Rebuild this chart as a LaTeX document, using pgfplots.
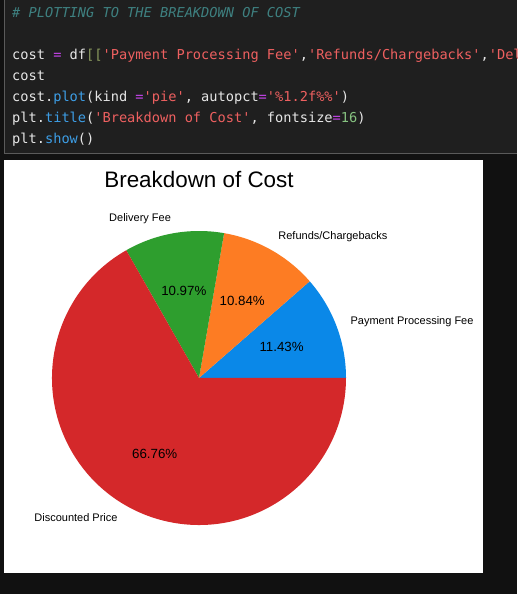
\documentclass[border=0pt]{standalone}
\usepackage{pgfplots}
\pgfplotsset{compat=1.18}
\usepackage{pgfplotstable}
\usepackage{fontspec}
\setmainfont{Liberation Sans}
\newfontfamily\codefont{DejaVu Sans Mono}
\definecolor{pagebg}{HTML}{111111}
\definecolor{cellbg}{HTML}{1F1F1F}
\definecolor{cellborder}{HTML}{5A5A5A}
\definecolor{ccomment}{HTML}{3E8080}
\definecolor{ctext}{HTML}{E6E6E6}
\definecolor{cop}{HTML}{C844EE}
\definecolor{cbrack}{HTML}{8A9A5E}
\definecolor{cstr}{HTML}{EE6060}
\definecolor{cfunc}{HTML}{3D9EE6}
\definecolor{cnum}{HTML}{86C280}
\definecolor{sliceA}{HTML}{0A88E8}
\definecolor{sliceB}{HTML}{FD7C23}
\definecolor{sliceC}{HTML}{2E9E2E}
\definecolor{sliceD}{HTML}{D4282A}

\pgfplotstableread[col sep=comma]{
label,value
Payment Processing Fee,11.43
Refunds/Chargebacks,10.84
Delivery Fee,10.97
Discounted Price,66.76
}\costdata

\newcommand\getrow[3]{%
  \pgfplotstablegetelem{#1}{value}\of\costdata\global\let#2\pgfplotsretval
  \pgfplotstablegetelem{#1}{label}\of\costdata\global\let#3\pgfplotsretval}
\getrow{0}{\vA}{\lA}
\getrow{1}{\vB}{\lB}
\getrow{2}{\vC}{\lC}
\getrow{3}{\vD}{\lD}
\pgfmathsetmacro\aA{0}
\pgfmathsetmacro\aB{\aA+3.6*\vA}
\pgfmathsetmacro\aC{\aB+3.6*\vB}
\pgfmathsetmacro\aD{\aC+3.6*\vC}
\pgfmathsetmacro\aE{\aD+3.6*\vD}

\tikzset{
  lblW/.style={anchor=west, inner sep=0pt, font=\fontsize{11}{12}\selectfont},
  lblE/.style={anchor=east, inner sep=0pt, font=\fontsize{11}{12}\selectfont},
  pct/.style={anchor=center, inner sep=0pt, font=\fontsize{13.3}{15}\selectfont}}

\newcommand\q{\textquotesingle}
\newcommand\slice[3]{% start, end, colour
  \fill[#3] (axis cs:0,0) -- (axis cs:{147*cos(#1)},{147*sin(#1)})
    arc[start angle=#1, end angle=#2, radius=147pt] -- cycle;}
\newcommand\slicelabel[3]{% start, end, text
  \pgfmathsetmacro\mid{(#1+#2)/2}%
  \pgfmathsetmacro\cx{161.7*cos(\mid)}%
  \pgfmathsetmacro\cy{161.7*sin(\mid)}%
  \ifdim\cx pt>0pt \def\lblstyle{lblW}\else\def\lblstyle{lblE}\fi
  \edef\temp{\noexpand\node[\lblstyle] at (axis cs:\cx,\cy) {\noexpand#3};}%
  \temp}
\newcommand\slicepct[3]{% start, end, value
  \pgfmathsetmacro\mid{(#1+#2)/2}%
  \pgfmathsetmacro\cx{88.2*cos(\mid)}%
  \pgfmathsetmacro\cy{88.2*sin(\mid)}%
  \edef\temp{\noexpand\node[pct] at (axis cs:\cx,\cy)
    {\noexpand\pgfmathprintnumber[fixed, fixed zerofill, precision=2, assume math mode=true]{#3}\noexpand\%};}%
  \temp}

\begin{document}
\begin{tikzpicture}[x=1pt,y=1pt]
\useasboundingbox (0,0) rectangle (517,594);
\fill[pagebg] (0,0) rectangle (517,594);
% code cell
\fill[cellbg] (4,440) rectangle (517,594);
\draw[cellborder, line width=1.2pt] (4.6,594) -- (4.6,440.6) -- (517,440.6);
\begin{scope}
\clip (5,441) rectangle (517,594);
\begin{scope}[every node/.style={anchor=base west, inner sep=0pt, font=\codefont\fontsize{13.65}{16}\selectfont}]
\node[text=ccomment, font=\codefont\itshape\fontsize{13.65}{16}\selectfont] at (12,576) {\# PLOTTING TO THE BREAKDOWN OF COST};
\node[text=ctext] at (12,534) {cost \textcolor{cop}{=} df\textcolor{cbrack}{[[}\textcolor{cstr}{\q Payment Processing Fee\q},\textcolor{cstr}{\q Refunds/Chargebacks\q},\textcolor{cstr}{\q Delivery Fee\q},\textcolor{cstr}{\q Discounted Price\q}\textcolor{cbrack}{]]}.sum()};
\node[text=ctext] at (12,513) {cost};
\node[text=ctext] at (12,492) {cost.\textcolor{cfunc}{plot}(kind \textcolor{cop}{=}\textcolor{cstr}{\q pie\q}, autopct\textcolor{cop}{=}\textcolor{cstr}{\q\%1.2f\%\%\q})};
\node[text=ctext] at (12,471) {plt.\textcolor{cfunc}{title}(\textcolor{cstr}{\q Breakdown of Cost\q}, fontsize\textcolor{cop}{=}\textcolor{cnum}{16})};
\node[text=ctext] at (12,450) {plt.\textcolor{cfunc}{show}()};
\end{scope}
\end{scope}
% figure panel
\fill[white] (4,21) rectangle (483,434);
\node[anchor=base, inner sep=0pt, font=\fontsize{22.4}{26}\selectfont] at (199,406) {Breakdown of Cost};
\begin{axis}[at={(4pt,21pt)}, anchor=south west, scale only axis,
  width=479pt, height=413pt, xmin=-195, xmax=284, ymin=-195, ymax=218,
  hide axis, clip=false]
\slice{\aA}{\aB}{sliceA}
\slice{\aB}{\aC}{sliceB}
\slice{\aC}{\aD}{sliceC}
\slice{\aD}{\aE}{sliceD}
\slicelabel{\aA}{\aB}{\lA}
\slicelabel{\aB}{\aC}{\lB}
\slicelabel{\aC}{\aD}{\lC}
\slicelabel{\aD}{\aE}{\lD}
\slicepct{\aA}{\aB}{\vA}
\slicepct{\aB}{\aC}{\vB}
\slicepct{\aC}{\aD}{\vC}
\slicepct{\aD}{\aE}{\vD}
\end{axis}
\end{tikzpicture}
\end{document}
